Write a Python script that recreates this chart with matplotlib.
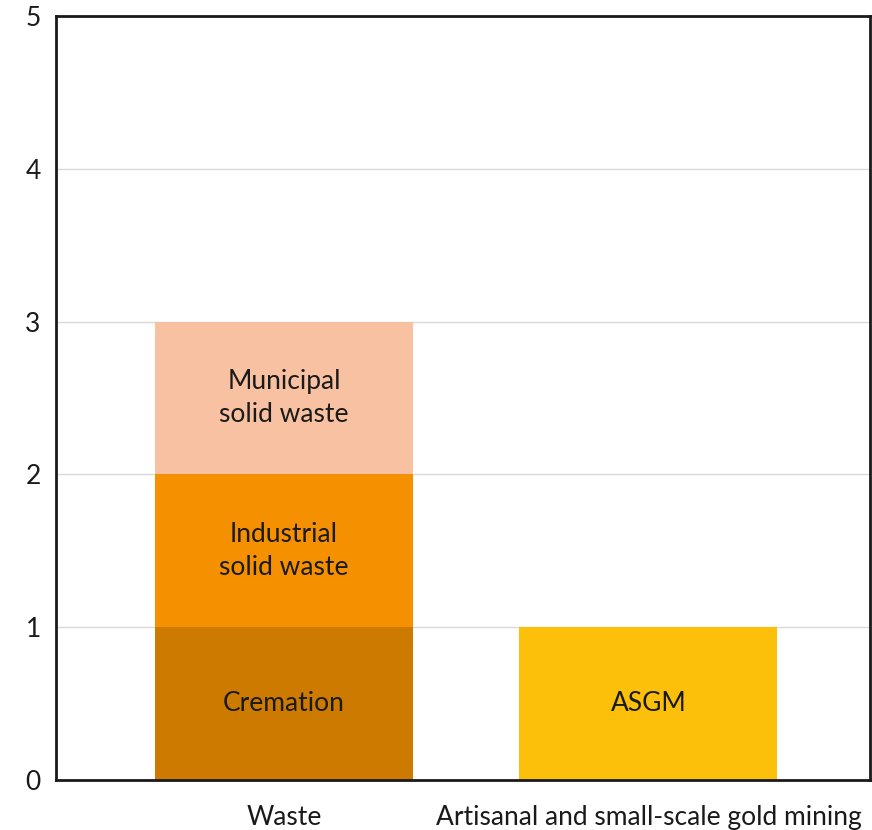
import matplotlib
matplotlib.use("Agg")
import matplotlib.pyplot as plt

plt.rcParams['font.family'] = ['Lato', 'DejaVu Sans']

categories = ["Waste", "Artisanal and small-scale gold mining"]
segments = ["Cremation", "Industrial\nsolid waste", "Municipal\nsolid waste", "ASGM"]
seg_category = [0, 0, 0, 1]
seg_values = [1, 1, 1, 1]
seg_colors = ["#CC7A00", "#F59100", "#F8C1A1", "#FCBF0A"]
yticks = [0, 1, 2, 3, 4, 5]

fig = plt.figure(figsize=(8.72, 8.30), dpi=100)
ax = fig.add_axes([0.0642, 0.0602, 0.9335, 0.9205])

bottoms = [0.0] * len(categories)
for cat, val, col, lab in zip(seg_category, seg_values, seg_colors, segments):
    b = bottoms[cat]
    ax.bar(cat, val, bottom=b, width=0.708, color=col, zorder=2, linewidth=0)
    ax.text(cat, b + val / 2, lab, ha='center', va='center',
            fontsize=19, color='#1a1a1a', linespacing=1.42, zorder=3)
    bottoms[cat] += val

ax.set_xlim(-0.626, 1.608)
ax.set_ylim(0, 5)
ax.set_yticks(yticks)
ax.set_yticklabels([str(t) for t in yticks], fontsize=19, color='#1a1a1a')
ax.set_xticks(range(len(categories)))
ax.set_xticklabels(categories, fontsize=19, color='#1a1a1a')
ax.tick_params(axis='both', length=0)
ax.tick_params(axis='y', pad=11)
ax.tick_params(axis='x', pad=18)
ax.grid(axis='y', color='#d9d9d9', linewidth=1, zorder=1)
ax.set_axisbelow(True)
for s in ax.spines.values():
    s.set_linewidth(2)
    s.set_color('#1a1a1a')
    s.set_zorder(4)

fig.savefig("out.png", dpi=100)
